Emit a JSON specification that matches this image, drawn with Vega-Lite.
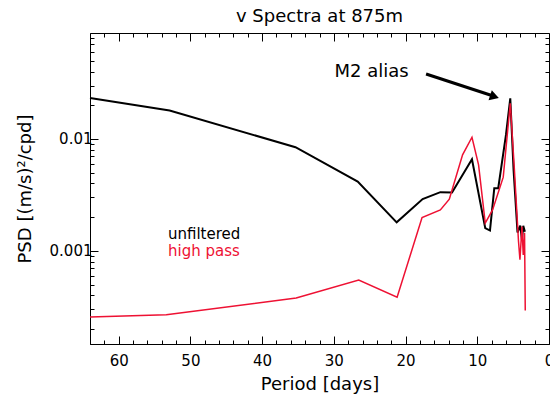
{
  "$schema": "https://vega.github.io/schema/vega-lite/v6.json",
  "width": 459,
  "height": 311,
  "autosize": {"type": "none"},
  "padding": {"left": 90, "top": 33, "right": 1, "bottom": 52},
  "background": "white",
  "config": {
    "font": "DejaVu Sans",
    "view": {"stroke": "black", "strokeWidth": 1},
    "axis": {
      "domainColor": "black",
      "tickColor": "black",
      "labelColor": "black",
      "titleColor": "black",
      "labelFont": "DejaVu Sans",
      "titleFont": "DejaVu Sans",
      "labelFontSize": 15,
      "titleFontSize": 18,
      "titleFontWeight": "normal",
      "grid": false,
      "labelOverlap": false,
      "labelFlush": false
    }
  },
  "title": {
    "text": "v Spectra at 875m",
    "fontSize": 18,
    "fontWeight": "normal",
    "font": "DejaVu Sans",
    "color": "black",
    "anchor": "middle",
    "offset": 5
  },
  "datasets": {
    "spectra": [
      {"period": 64.0, "psd": 0.02321, "series": "unfiltered"},
      {"period": 52.9, "psd": 0.01791, "series": "unfiltered"},
      {"period": 35.35, "psd": 0.008432, "series": "unfiltered"},
      {"period": 26.67, "psd": 0.004159, "series": "unfiltered"},
      {"period": 21.24, "psd": 0.001796, "series": "unfiltered"},
      {"period": 17.62, "psd": 0.002897, "series": "unfiltered"},
      {"period": 15.15, "psd": 0.003342, "series": "unfiltered"},
      {"period": 13.52, "psd": 0.003318, "series": "unfiltered"},
      {"period": 10.74, "psd": 0.006589, "series": "unfiltered"},
      {"period": 8.89, "psd": 0.001597, "series": "unfiltered"},
      {"period": 8.23, "psd": 0.001518, "series": "unfiltered"},
      {"period": 7.63, "psd": 0.00363, "series": "unfiltered"},
      {"period": 7.08, "psd": 0.00363, "series": "unfiltered"},
      {"period": 6.0, "psd": 0.01086, "series": "unfiltered"},
      {"period": 5.4, "psd": 0.02306, "series": "unfiltered"},
      {"period": 4.94, "psd": 0.005284, "series": "unfiltered"},
      {"period": 4.39, "psd": 0.001456, "series": "unfiltered"},
      {"period": 4.01, "psd": 0.001683, "series": "unfiltered"},
      {"period": 3.77, "psd": 0.001253, "series": "unfiltered"},
      {"period": 3.59, "psd": 0.001671, "series": "unfiltered"},
      {"period": 3.36, "psd": 0.001479, "series": "unfiltered"},
      {"period": 64.0, "psd": 0.0002558, "series": "high pass"},
      {"period": 53.36, "psd": 0.0002685, "series": "high pass"},
      {"period": 35.25, "psd": 0.0003785, "series": "high pass"},
      {"period": 26.53, "psd": 0.0005476, "series": "high pass"},
      {"period": 21.18, "psd": 0.0003845, "series": "high pass"},
      {"period": 17.7, "psd": 0.001982, "series": "high pass"},
      {"period": 15.15, "psd": 0.002321, "series": "high pass"},
      {"period": 13.9, "psd": 0.002897, "series": "high pass"},
      {"period": 12.05, "psd": 0.007197, "series": "high pass"},
      {"period": 10.74, "psd": 0.01035, "series": "high pass"},
      {"period": 9.82, "psd": 0.005862, "series": "high pass"},
      {"period": 8.89, "psd": 0.001767, "series": "high pass"},
      {"period": 7.87, "psd": 0.002321, "series": "high pass"},
      {"period": 6.38, "psd": 0.00455, "series": "high pass"},
      {"period": 5.4, "psd": 0.02085, "series": "high pass"},
      {"period": 4.85, "psd": 0.005663, "series": "high pass"},
      {"period": 4.25, "psd": 0.001211, "series": "high pass"},
      {"period": 4.05, "psd": 0.000832, "series": "high pass"},
      {"period": 3.77, "psd": 0.001648, "series": "high pass"},
      {"period": 3.59, "psd": 0.00092, "series": "high pass"},
      {"period": 3.41, "psd": 0.001449, "series": "high pass"},
      {"period": 3.31, "psd": 0.000293, "series": "high pass"}
    ],
    "labels": [
      {"period": 53.13, "psd": 0.001409, "text": "unfiltered", "series": "unfiltered"},
      {"period": 53.13, "psd": 0.001006, "text": "high pass", "series": "high pass"}
    ],
    "note": [
      {"period": 29.9, "psd": 0.03963, "text": "M2 alias"}
    ],
    "arrow": [
      {"period": 17.14, "psd": 0.03802, "period2": 7.77, "psd2": 0.0242}
    ],
    "head": [
      {"period": 7.6, "psd": 0.0239}
    ]
  },
  "layer": [
    {
      "data": {"name": "spectra"},
      "transform": [{"filter": "datum.series === 'unfiltered'"}],
      "mark": {"type": "line", "color": "black", "strokeWidth": 2},
      "encoding": {
        "x": {
          "field": "period", "type": "quantitative",
          "scale": {"domain": [64, 0], "nice": false, "zero": false},
          "axis": {
            "orient": "bottom",
            "title": "Period [days]",
            "values": [0,2,4,6,8,10,12,14,16,18,20,22,24,26,28,30,32,34,36,38,40,42,44,46,48,50,52,54,56,58,60,62],
            "labelExpr": "datum.value % 10 === 0 ? format(datum.value, 'd') : ''",
            "tickSize": {"condition": {"test": "datum.value % 10 === 0", "value": -8}, "value": -4},
            "labelPadding": 17,
            "titlePadding": 3
          }
        },
        "y": {
          "field": "psd", "type": "quantitative",
          "scale": {"type": "log", "domain": [0.000147, 0.0884], "nice": false},
          "axis": {
            "orient": "left",
            "title": "PSD [(m/s)²/cpd]",
            "values": [0.0002,0.0003,0.0004,0.0005,0.0006,0.0007,0.0008,0.0009,0.001,0.002,0.003,0.004,0.005,0.006,0.007,0.008,0.009,0.01,0.02,0.03,0.04,0.05,0.06,0.07,0.08],
            "labelExpr": "abs(datum.value-0.01)<1e-9 ? '0.01' : (abs(datum.value-0.001)<1e-10 ? '0.001' : '')",
            "tickSize": {"condition": {"test": "abs(datum.value-0.01)<1e-9 || abs(datum.value-0.001)<1e-10", "value": -8}, "value": -4},
            "labelPadding": 6,
            "titlePadding": 15
          }
        }
      }
    },
    {
      "data": {"name": "spectra"},
      "transform": [{"filter": "datum.series === 'high pass'"}],
      "mark": {"type": "line", "color": "#ee1133", "strokeWidth": 1.5},
      "encoding": {
        "x": {
          "field": "period", "type": "quantitative",
          "axis": {
            "orient": "top",
            "title": null,
            "labels": false,
            "domain": false,
            "values": [0,2,4,6,8,10,12,14,16,18,20,22,24,26,28,30,32,34,36,38,40,42,44,46,48,50,52,54,56,58,60,62],
            "tickSize": {"condition": {"test": "datum.value % 10 === 0", "value": -8}, "value": -4}
          }
        },
        "y": {
          "field": "psd", "type": "quantitative",
          "axis": {
            "orient": "right",
            "title": null,
            "labels": false,
            "domain": false,
            "values": [0.0002,0.0003,0.0004,0.0005,0.0006,0.0007,0.0008,0.0009,0.001,0.002,0.003,0.004,0.005,0.006,0.007,0.008,0.009,0.01,0.02,0.03,0.04,0.05,0.06,0.07,0.08],
            "tickSize": {"condition": {"test": "abs(datum.value-0.01)<1e-9 || abs(datum.value-0.001)<1e-10", "value": -8}, "value": -4}
          }
        }
      }
    },
    {
      "data": {"name": "labels"},
      "mark": {"type": "text", "align": "left", "baseline": "middle", "fontSize": 15, "font": "DejaVu Sans"},
      "encoding": {
        "x": {"field": "period", "type": "quantitative", "axis": null},
        "y": {"field": "psd", "type": "quantitative", "axis": null},
        "text": {"field": "text"},
        "color": {
          "field": "series", "type": "nominal",
          "scale": {"domain": ["unfiltered", "high pass"], "range": ["black", "#ee1133"]},
          "legend": null
        }
      }
    },
    {
      "data": {"name": "note"},
      "mark": {"type": "text", "align": "left", "baseline": "middle", "fontSize": 18, "font": "DejaVu Sans", "color": "black"},
      "encoding": {
        "x": {"field": "period", "type": "quantitative", "axis": null},
        "y": {"field": "psd", "type": "quantitative", "axis": null},
        "text": {"field": "text"}
      }
    },
    {
      "data": {"name": "arrow"},
      "mark": {"type": "rule", "color": "black", "strokeWidth": 3},
      "encoding": {
        "x": {"field": "period", "type": "quantitative", "axis": null},
        "x2": {"field": "period2"},
        "y": {"field": "psd", "type": "quantitative", "axis": null},
        "y2": {"field": "psd2"}
      }
    },
    {
      "data": {"name": "head"},
      "mark": {"type": "point", "shape": "triangle-right", "filled": true, "color": "black", "opacity": 1, "size": 110, "angle": 18},
      "encoding": {
        "x": {"field": "period", "type": "quantitative", "axis": null},
        "y": {"field": "psd", "type": "quantitative", "axis": null}
      }
    }
  ],
  "resolve": {"axis": {"x": "independent", "y": "independent"}}
}
